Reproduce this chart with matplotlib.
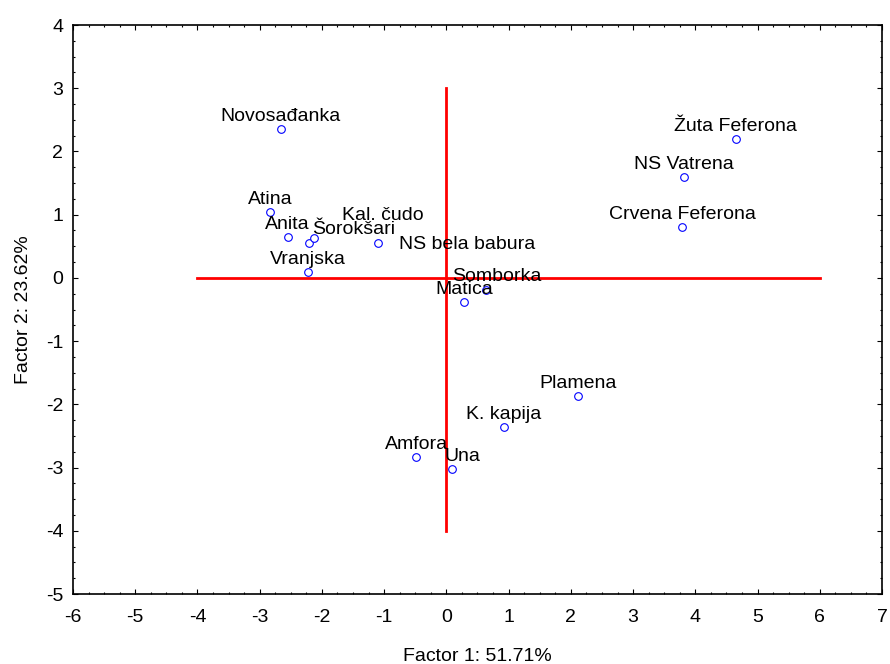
import numpy as np
import matplotlib
matplotlib.use('Agg')
import matplotlib.pyplot as plt
from matplotlib.ticker import MultipleLocator

names = ['Novosađanka', 'Atina', 'Anita', 'Kal. čudo', 'Šorokšari', 'NS bela babura',
         'Vranjska', 'Somborka', 'Matica', 'Žuta Feferona', 'NS Vatrena',
         'Crvena Feferona', 'Plamena', 'K. kapija', 'Amfora', 'Una']
factor1 = [-2.66, -2.83, -2.55, -2.20, -2.12, -1.10, -2.23, 0.63, 0.28,
           4.65, 3.82, 3.79, 2.12, 0.92, -0.48, 0.09]
factor2 = [2.36, 1.04, 0.65, 0.56, 0.63, 0.56, 0.10, -0.19, -0.38,
           2.19, 1.59, 0.81, -1.86, -2.36, -2.83, -3.02]

# label offsets in pixels (dx right, dy up), most labels sit centred above the point
label_off = {'Kal. čudo': (73, 23), 'Šorokšari': (39, 4), 'NS bela babura': (89, -6),
             'Somborka': (11, 9), 'Una': (10, 8)}

plt.rcParams['font.family'] = ['Liberation Sans', 'DejaVu Sans']
plt.rcParams['axes.unicode_minus'] = False

fig = plt.figure(figsize=(8.9, 6.64), dpi=100)
ax = fig.add_axes([0.082, 0.1054, 0.909, 0.8569])

ax.plot([0, 0], [-4, 3], color='red', lw=2, zorder=1)
ax.plot([-4, 6], [0, 0], color='red', lw=2, zorder=1)
ax.plot(factor1, factor2, 'o', ms=5.5, mfc='white', mec='blue', mew=0.8, zorder=3)

px = 72 / 100
for n, x, y in zip(names, factor1, factor2):
    dx, dy = label_off.get(n, (0, 8))
    ax.annotate(n, (x, y), xytext=(dx * px, dy * px), textcoords='offset points',
                ha='center', va='baseline', fontsize=14, color='black', zorder=4)

ax.set_xlim(-6, 7)
ax.set_ylim(-5, 4)
ax.xaxis.set_major_locator(MultipleLocator(1))
ax.yaxis.set_major_locator(MultipleLocator(1))
ax.xaxis.set_minor_locator(MultipleLocator(0.25))
ax.yaxis.set_minor_locator(MultipleLocator(0.25))
ax.tick_params(which='both', direction='in', top=True, right=True, labelsize=14, width=0.8)
ax.tick_params(which='major', length=3.5)
ax.tick_params(which='minor', length=1.5)
ax.tick_params(axis='x', which='major', pad=11)
ax.tick_params(axis='y', which='major', pad=7)
for s in ax.spines.values():
    s.set_linewidth(1.2)

ax.set_xlabel('Factor 1: 51.71%', fontsize=14, labelpad=15.5)
ax.set_ylabel('Factor 2: 23.62%', fontsize=14, labelpad=10)

fig.savefig('out.png', dpi=100)
